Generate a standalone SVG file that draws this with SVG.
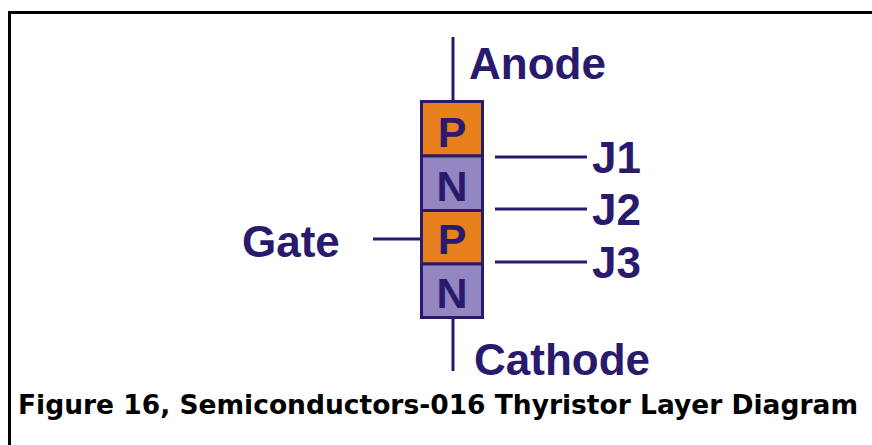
<svg xmlns="http://www.w3.org/2000/svg" width="872" height="445" viewBox="0 0 872 445">
<style>
.lbl{font-family:"Liberation Sans",Arial,sans-serif;font-weight:bold;font-size:44px;fill:#2a1a6e}
.ltr{font-family:"Liberation Sans",Arial,sans-serif;font-weight:bold;font-size:43px;fill:#2a1a6e;text-anchor:middle}
.ln{stroke:#2a1a6e;stroke-width:3;fill:none}
.p{fill:#e8801e;stroke:#2a1a6e;stroke-width:3}
.n{fill:#9486c0;stroke:#2a1a6e;stroke-width:3}
.cap{font-family:"DejaVu Sans",Verdana,sans-serif;font-weight:bold;font-size:26.5px;fill:#000}
</style>
<rect width="872" height="445" fill="#fff"/>
<path d="M9.5,445 V12.5 H872" stroke="#000" stroke-width="3" fill="none"/>
<g id="connectors">
<line class="ln" x1="453" y1="37" x2="453" y2="101"/>
<line class="ln" x1="453" y1="318" x2="453" y2="371"/>
<line class="ln" x1="373" y1="239" x2="421" y2="239"/>
<line class="ln" x1="495" y1="157" x2="587" y2="157"/>
<line class="ln" x1="495" y1="209" x2="587" y2="209"/>
<line class="ln" x1="495" y1="262" x2="587" y2="262"/>
</g>
<g id="layer-p1"><rect class="p" x="421.5" y="101.5" width="61" height="54.5"/><text class="ltr" x="452" y="147">P</text></g>
<g id="layer-n1"><rect class="n" x="421.5" y="156" width="61" height="54.5"/><text class="ltr" x="452" y="201">N</text></g>
<g id="layer-p2"><rect class="p" x="421.5" y="210.5" width="61" height="53.5"/><text class="ltr" x="452" y="254">P</text></g>
<g id="layer-n2"><rect class="n" x="421.5" y="264" width="61" height="53.5"/><text class="ltr" x="452" y="308">N</text></g>
<g id="anode"><text class="lbl" x="469" y="79">Anode</text></g>
<g id="cathode"><text class="lbl" x="474" y="375">Cathode</text></g>
<g id="gate"><text class="lbl" x="242" y="257">Gate</text></g>
<g id="j1"><text class="lbl" x="592" y="173">J1</text></g>
<g id="j2"><text class="lbl" x="592" y="225">J2</text></g>
<g id="j3"><text class="lbl" x="592" y="278">J3</text></g>
<text class="cap" x="18" y="414" textLength="840" lengthAdjust="spacingAndGlyphs">Figure 16, Semiconductors-016 Thyristor Layer Diagram</text>
</svg>
